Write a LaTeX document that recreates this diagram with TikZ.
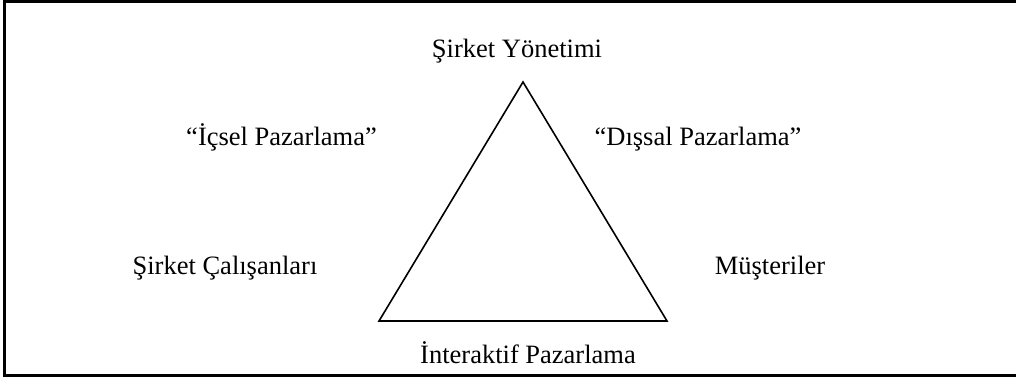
\documentclass[tikz,border=0pt]{standalone}
\usepackage{fontspec}
\setmainfont{Liberation Serif}
\begin{document}
\begin{tikzpicture}[x=1pt,y=-1pt,
  lbl/.style={anchor=base,inner sep=0pt,font=\fontsize{26.5}{30}\selectfont},
  frame/.style={line width=2.2pt},
  tri/.style={line width=1.6pt,line join=miter}]
\useasboundingbox (0,0) rectangle (1016,378);
\fill[white] (0,0) rectangle (1016,378);
\begin{scope}
\clip (0,0) rectangle (1016,378);
\draw[frame] (4.5,1.5) rectangle (1030,375.5);
\end{scope}
\coordinate (top) at (523,82);
\coordinate (bl) at (379,321);
\coordinate (br) at (667,321);
\draw[tri] (top) -- (bl) -- (br) -- cycle;
\node[lbl] (yon) at (517,57) {Şirket Yönetimi};
\node[lbl] (ic) at (281.5,145) {“İçsel Pazarlama”};
\node[lbl] (dis) at (698,145) {“Dışsal Pazarlama”};
\node[lbl] (cal) at (225,274) {Şirket Çalışanları};
\node[lbl] (mus) at (770,274) {Müşteriler};
\node[lbl] (int) at (528,363) {İnteraktif Pazarlama};
\end{tikzpicture}
\end{document}
